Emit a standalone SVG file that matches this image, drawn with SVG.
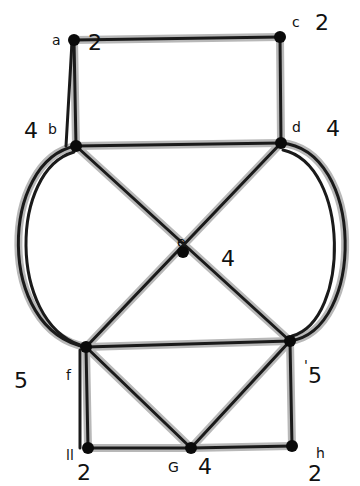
<svg xmlns="http://www.w3.org/2000/svg" width="360" height="486" viewBox="0 0 360 486">
<style>
.under{fill:none;stroke:#b8b8b8;stroke-width:8;stroke-linecap:round}
.e{fill:none;stroke:#1a1a1a;stroke-width:3;stroke-linecap:round}
.n{fill:#0a0a0a}
.t{font-family:"DejaVu Sans","Liberation Sans",sans-serif;fill:#111}
.big{font-size:22px}
.sm{font-size:14px}
</style>
<rect width="360" height="486" fill="#fff"/>
<g id="connectors">
<g class="under">
<path d="M74,40 L280,37"/><path d="M74,40 L76,146"/><path d="M280,37 L281,143"/>
<path d="M76,146 L281,143"/><path d="M76,146 L290,341"/><path d="M281,143 L86,347"/>
<path d="M86,347 L290,341"/><path d="M86,347 L191,448"/><path d="M290,341 L191,448"/>
<path d="M86,347 L88,448"/><path d="M88,448 L191,448"/><path d="M191,448 L292,446"/><path d="M290,341 L292,446"/>
<path d="M76,146 C0,160 -5,330 86,347"/><path d="M281,143 C365,150 365,330 290,341"/>
</g>
<g class="e">
<path d="M74,40 L280,37"/><path d="M74,40 L76,146"/><path d="M72,42 L66,146"/><path d="M280,37 L281,143"/>
<path d="M76,146 L281,143"/><path d="M76,146 L290,341"/><path d="M281,143 L86,347"/>
<path d="M86,347 L290,341"/><path d="M86,347 L191,448"/><path d="M290,341 L191,448"/>
<path d="M86,347 L88,448"/><path d="M80,350 L80,448"/><path d="M88,448 L191,448"/><path d="M191,448 L292,446"/><path d="M290,341 L292,446"/>
<path d="M76,146 C0,160 -5,330 86,347"/><path d="M74,152 C10,170 8,320 80,345"/>
<path d="M281,143 C365,150 365,330 290,341"/><path d="M283,150 C350,165 350,320 292,336"/>
</g>
</g>
<g id="node-a"><circle class="n" cx="74" cy="40" r="6"/><text class="t sm" x="52" y="45">a</text><text class="t big" x="88" y="50">2</text></g>
<g id="node-c"><circle class="n" cx="280" cy="37" r="6"/><text class="t sm" x="292" y="27">c</text><text class="t big" x="315" y="30">2</text></g>
<g id="node-b"><circle class="n" cx="76" cy="146" r="6"/><text class="t big" x="24" y="138">4</text><text class="t sm" x="48" y="134">b</text></g>
<g id="node-d"><circle class="n" cx="281" cy="143" r="6"/><text class="t sm" x="292" y="132">d</text><text class="t big" x="326" y="136">4</text></g>
<g id="node-e"><circle class="n" cx="183" cy="252" r="6"/><text class="t sm" x="177" y="247">e</text><text class="t big" x="221" y="266">4</text></g>
<g id="node-f"><circle class="n" cx="86" cy="347" r="6"/><text class="t big" x="14" y="388">5</text><text class="t sm" x="66" y="380">f</text></g>
<g id="node-g"><circle class="n" cx="290" cy="341" r="6"/><text class="t sm" x="304" y="370">'</text><text class="t big" x="308" y="383">5</text></g>
<g id="node-i"><circle class="n" cx="88" cy="448" r="6"/><text class="t sm" x="66" y="460">ll</text><text class="t big" x="77" y="480" font-size="19">2</text></g>
<g id="node-G"><circle class="n" cx="191" cy="448" r="6"/><text class="t sm" x="168" y="472">G</text><text class="t big" x="198" y="474">4</text></g>
<g id="node-h"><circle class="n" cx="292" cy="446" r="6"/><text class="t sm" x="316" y="458">h</text><text class="t big" x="308" y="481" font-size="19">2</text></g>
</svg>
